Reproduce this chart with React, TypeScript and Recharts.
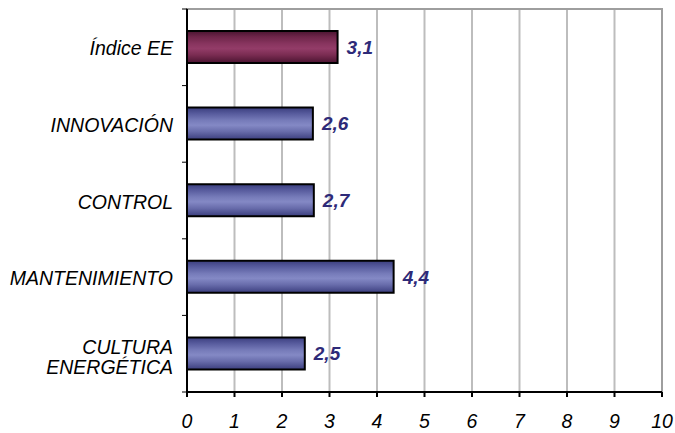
import React from "react";
import { BarChart, Bar, XAxis, YAxis, CartesianGrid, LabelList, Cell, ReferenceArea } from "recharts";

const categories = ["Índice EE", "INNOVACIÓN", "CONTROL", "MANTENIMIENTO", "CULTURA ENERGÉTICA"];
const values = [3.17, 2.65, 2.67, 4.35, 2.48];
const valueLabels = ["3,1", "2,6", "2,7", "4,4", "2,5"];
const xTicks = [0, 1, 2, 3, 4, 5, 6, 7, 8, 9, 10];

const data = categories.map((c, i) => ({ name: c, value: values[i], label: valueLabels[i] }));

const FONT = "'Liberation Sans', Arial, sans-serif";
const Y_TICK_MARGIN = 14;

const YTick = (props: any) => {
  const { x, y, payload, index } = props;
  const text: string = payload.value;
  const lines = text.length > 15 ? text.split(" ") : [text];
  const lh = 20;
  const startDy = -((lines.length - 1) * lh) / 2;
  const half = typeof payload.offset === "number" && payload.offset > 0 ? payload.offset : 38.3;
  const axisX = x + Y_TICK_MARGIN;
  return (
    <g>
      {index === 0 && (
        <line x1={axisX - 5} x2={axisX} y1={y - half} y2={y - half} stroke="#000" strokeWidth={1} />
      )}
      <line x1={axisX - 5} x2={axisX} y1={y + half} y2={y + half} stroke="#000" strokeWidth={1} />
      <text
        x={x}
        y={y}
        textAnchor="end"
        fontFamily={FONT}
        fontStyle="italic"
        fontSize={19.5}
        fill="#000"
      >
        {lines.map((l, i) => (
          <tspan key={i} x={x} dy={i === 0 ? startDy + (lines.length > 1 ? 10 : 8) : lh}>
            {l}
          </tspan>
        ))}
      </text>
    </g>
  );
};

const XTick = (props: any) => {
  const { x, y, payload } = props;
  return (
    <text x={x} y={y} textAnchor="middle" fontFamily={FONT} fontStyle="italic" fontSize={19.5} fill="#000" dy={29}>
      {payload.value}
    </text>
  );
};

export default function App() {
  return (
    <div style={{ position: "absolute", left: 0, top: 0, background: "#fff" }}>
      <BarChart
        width={675}
        height={433}
        data={data}
        layout="vertical"
        margin={{ top: 9, right: 13, bottom: 0, left: 0 }}
      >
        <defs>
          <linearGradient id="gBlue" x1="0" y1="0" x2="0" y2="1">
            <stop offset="0" stopColor="#3b3e7e" />
            <stop offset="0.18" stopColor="#565a9c" />
            <stop offset="0.4" stopColor="#767bb9" />
            <stop offset="0.55" stopColor="#8489c5" />
            <stop offset="0.75" stopColor="#686cab" />
            <stop offset="1" stopColor="#3b3e7e" />
          </linearGradient>
          <linearGradient id="gRed" x1="0" y1="0" x2="0" y2="1">
            <stop offset="0" stopColor="#4a1430" />
            <stop offset="0.18" stopColor="#6e2549" />
            <stop offset="0.4" stopColor="#88355f" />
            <stop offset="0.55" stopColor="#933c68" />
            <stop offset="0.75" stopColor="#7a2c52" />
            <stop offset="1" stopColor="#4a1430" />
          </linearGradient>
        </defs>
        <CartesianGrid
          horizontal={false}
          vertical={true}
          stroke="#bdbdbd"
          strokeWidth={2}
        />
        <ReferenceArea
          x1={0}
          x2={10}
          fill="none"
          fillOpacity={0}
          stroke="#9e9e9e"
          strokeWidth={2}
          strokeOpacity={1}
        />
        <XAxis
          type="number"
          domain={[0, 10]}
          ticks={xTicks}
          interval={0}
          height={41}
          stroke="#000"
          strokeWidth={2}
          tickSize={5}
          tickMargin={2}
          tick={<XTick />}
        />
        <YAxis
          type="category"
          dataKey="name"
          width={187}
          axisLine={{ stroke: "#000", strokeWidth: 2 }}
          tickLine={false}
          tickSize={0}
          tickMargin={Y_TICK_MARGIN}
          interval={0}
          tick={<YTick />}
        />
        <Bar
          dataKey="value"
          barSize={32}
          stroke="#000"
          strokeWidth={2}
          isAnimationActive={false}
        >
          {data.map((d, i) => (
            <Cell key={i} fill={i === 0 ? "url(#gRed)" : "url(#gBlue)"} />
          ))}
          <LabelList
            dataKey="label"
            position="right"
            offset={9}
            fill="#2e2a78"
            fontFamily={FONT}
            fontWeight="bold"
            fontStyle="italic"
            fontSize={19}
          />
        </Bar>
      </BarChart>
    </div>
  );
}
